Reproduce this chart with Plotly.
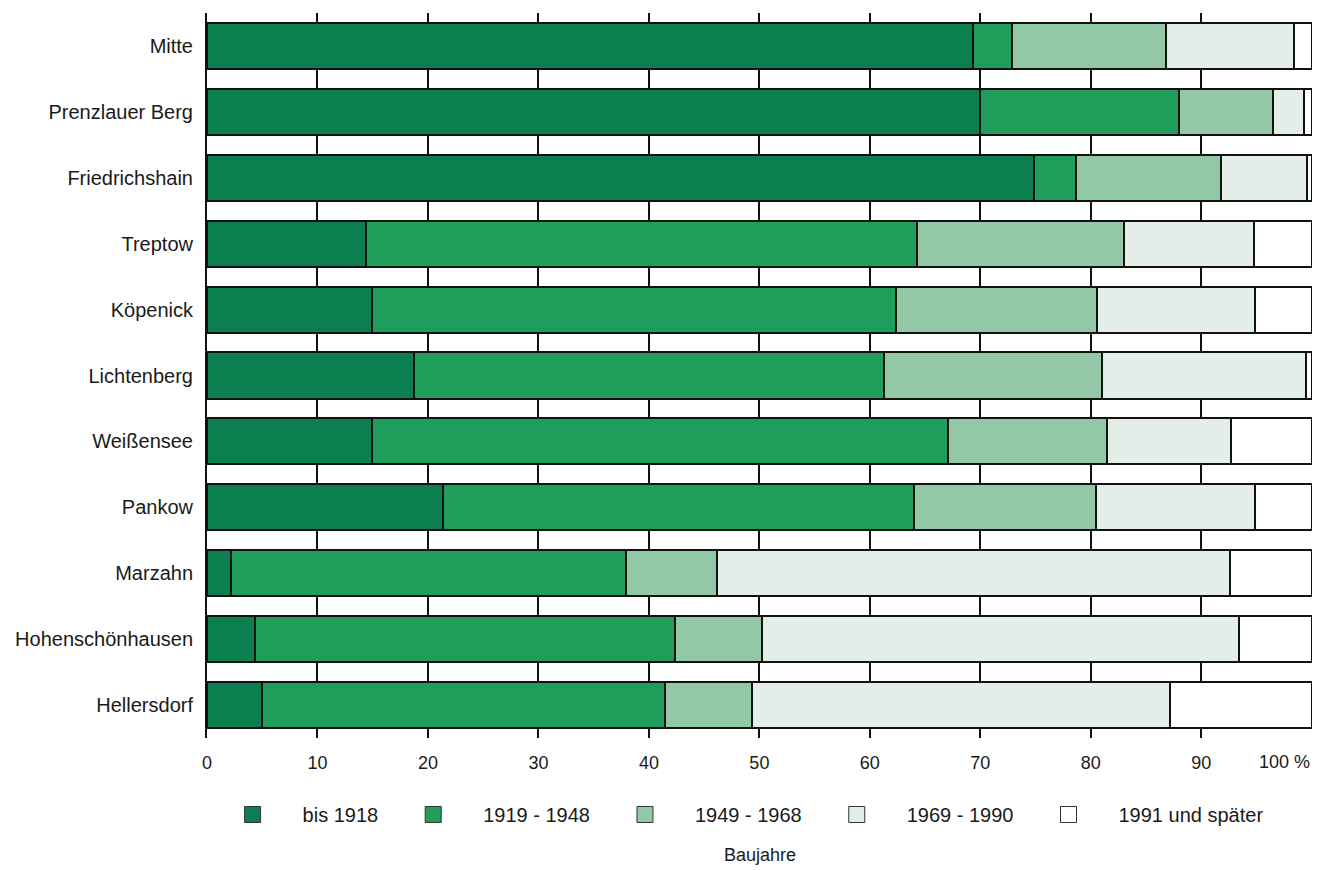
import plotly.graph_objects as go

districts = ["Mitte", "Prenzlauer Berg", "Friedrichshain", "Treptow", "Köpenick",
             "Lichtenberg", "Weißensee", "Pankow", "Marzahn", "Hohenschönhausen",
             "Hellersdorf"]

bis_1918 = [69.3, 70.0, 74.9, 14.4, 14.9, 18.7, 14.9, 21.4, 2.2, 4.3, 5.0]
j1919_1948 = [3.6, 18.0, 3.8, 49.9, 47.5, 42.6, 52.2, 42.6, 35.7, 38.1, 36.5]
j1949_1968 = [13.9, 8.5, 13.1, 18.7, 18.2, 19.7, 14.4, 16.5, 8.3, 7.8, 7.8]
j1969_1990 = [11.6, 2.8, 7.8, 11.8, 14.3, 18.5, 11.2, 14.4, 46.4, 43.2, 37.9]
j1991_plus = [1.6, 0.7, 0.4, 5.2, 5.1, 0.5, 7.3, 5.1, 7.4, 6.6, 12.8]

series_names = ["bis 1918", "1919 - 1948", "1949 - 1968", "1969 - 1990", "1991 und später"]
series_values = [bis_1918, j1919_1948, j1949_1968, j1969_1990, j1991_plus]
colors = ["#0b7f4f", "#1f9d5a", "#92c8a6", "#e4eee8", "#ffffff"]

x_ticks = [0, 10, 20, 30, 40, 50, 60, 70, 80, 90, 100]
x_ticktext = ["0", "10", "20", "30", "40", "50", "60", "70", "80", "90", ""]

FONT = "Liberation Sans, Arial, Helvetica, sans-serif"

fig = go.Figure()
for name, vals, col in zip(series_names, series_values, colors):
    fig.add_trace(go.Bar(
        y=districts, x=vals, name=name, orientation="h",
        marker=dict(color=col, line=dict(color="#111111", width=2)),
        showlegend=False,
    ))
    # legend entry with larger square symbol
    fig.add_trace(go.Scatter(
        x=[None], y=[None], mode="markers", name=name,
        marker=dict(symbol="square", size=16, color=col,
                    line=dict(color="#333333", width=1)),
        showlegend=True,
    ))

fig.update_layout(
    barmode="stack",
    bargap=0.3,
    width=1325, height=870,
    margin=dict(l=207, r=13, t=13, b=132),
    plot_bgcolor="white", paper_bgcolor="white",
    font=dict(family=FONT, size=18, color="#1a1a1a"),
    legend=dict(
        orientation="h", x=-0.004, xanchor="left", y=-0.1055, yanchor="middle",
        font=dict(family=FONT, size=20, color="#1a1a1a"),
        itemwidth=90,
        itemsizing="trace", traceorder="normal",
        bgcolor="rgba(0,0,0,0)",
    ),
    xaxis=dict(
        range=[0, 100.02], tickvals=x_ticks, ticktext=x_ticktext,
        showgrid=True, gridcolor="#111111", gridwidth=2,
        zeroline=False, showline=False,
        ticks="", ticklabelstandoff=12,
        tickfont=dict(family=FONT, size=18, color="#1a1a1a"),
    ),
    yaxis=dict(
        categoryorder="array", categoryarray=districts,
        range=[10.5, -0.5],
        showgrid=False, zeroline=False,
        showline=True, linecolor="#111111", linewidth=2,
        ticks="", ticklabelstandoff=8,
        tickfont=dict(family=FONT, size=20, color="#1a1a1a"),
    ),
    annotations=[
        dict(text="100 %", x=100, xref="x", xanchor="right",
             y=0, yref="paper", yanchor="top", yshift=-12, showarrow=False,
             font=dict(family=FONT, size=18, color="#1a1a1a")),
        dict(text="Baujahre", x=0.5, xref="paper", xanchor="center",
             y=-0.1607, yref="paper", yanchor="middle", showarrow=False,
             font=dict(family=FONT, size=18, color="#1a1a1a")),
    ],
)

fig.write_html("out.html", config={"displayModeBar": False},
               post_script="document.body.style.margin='0';")
